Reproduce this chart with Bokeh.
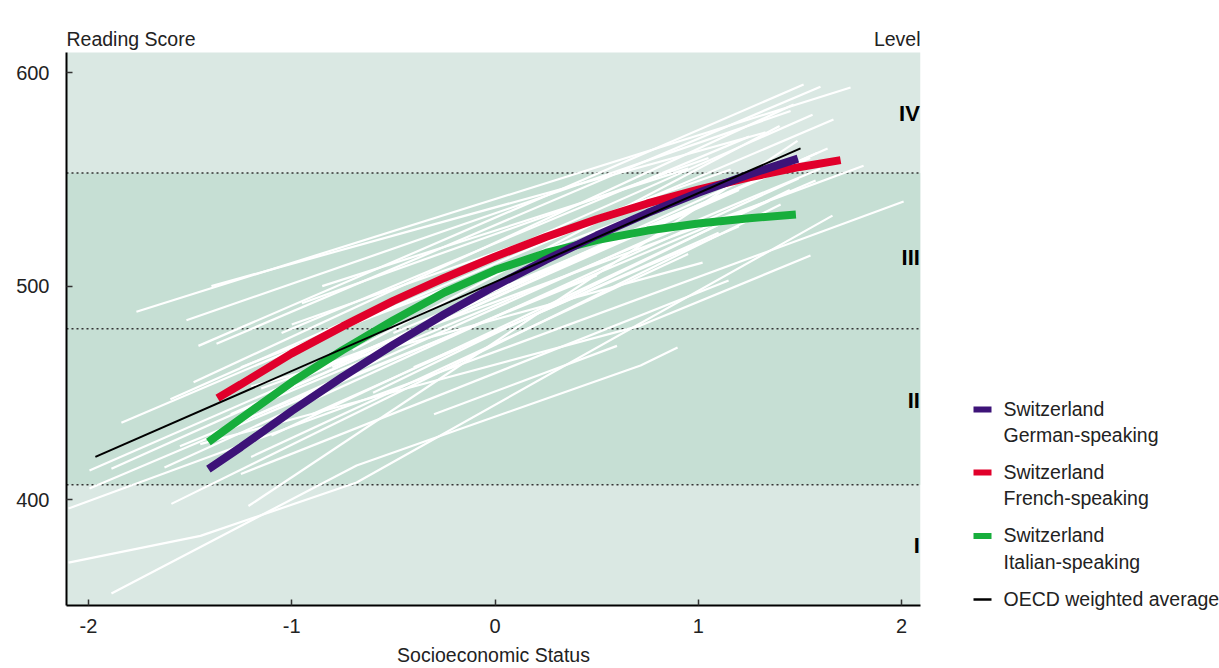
from bokeh.plotting import figure
from bokeh.models import Range1d, BoxAnnotation, Span, Label, FixedTicker
from bokeh.layouts import row
from bokeh.embed import file_html
from bokeh.resources import INLINE
from bokeh.core.properties import value

# ---------------- data ----------------
level_bounds = [407, 480, 553]
level_names = ["I", "II", "III", "IV"]
level_label_y = [378.5, 446.4, 513.3, 580.8]

x_ticks = [-2, -1, 0, 1, 2]
y_ticks = [400, 500, 600]

german_x = [-1.41, -1.25, -1.0, -0.75, -0.5, -0.25, 0.0, 0.25, 0.5, 0.75, 1.0, 1.25, 1.49]
german_y = [414.3, 424.6, 441.5, 457.5, 472.6, 486.8, 500.0, 512.3, 523.7, 534.2, 543.7, 552.3, 559.7]

french_x = [-1.365, -1.25, -1.0, -0.75, -0.5, -0.25, 0.0, 0.25, 0.5, 0.75, 1.0, 1.25, 1.5, 1.70]
french_y = [447.5, 454.0, 468.5, 481.1, 493.1, 503.8, 513.8, 523.0, 531.3, 538.7, 545.2, 550.9, 555.8, 559.0]

italian_x = [-1.41, -1.25, -1.0, -0.75, -0.5, -0.25, 0.0, 0.25, 0.5, 0.75, 1.0, 1.25, 1.48]
italian_y = [427.0, 438.0, 455.0, 470.0, 484.0, 497.0, 507.5, 515.5, 521.5, 526.0, 529.3, 531.8, 533.5]

oecd_x = [-1.966, 1.503]
oecd_y = [420.0, 564.5]

# other countries (socio-economic gradients)
country_xs = [
    [-1.764, 1.749], [-1.395, 1.331], [-1.518, 1.454], [-1.459, 1.518], [-1.370, 1.601],
    [-1.483, 1.469], [-1.597, 1.562], [-1.838, 1.665], [-1.995, 1.636], [-1.887, 1.587],
    [-1.995, 1.577], [-2.098, 2.010], [-1.626, 1.493], [-1.592, 1.405], [-1.213, 1.488],
    [-1.887, -0.681, 0.716, 0.898], [-2.098, -1.449, -0.681, 1.660], [-1.25, 1.149],
    [-1.45, -0.711, 0.716, 1.552], [-1.20, 1.021], [-1.00, 1.159], [-1.15, 1.813],
    [-1.30, 1.20], [-1.10, 1.35], [-1.00, 1.50], [-0.90, 1.10], [-0.80, 1.30],
    [-1.20, 0.95], [-0.60, 1.45], [-1.05, 1.25], [-0.70, 1.40], [-1.40, 0.90],
    [-0.50, 1.55], [-0.95, 1.05], [-1.25, 1.10], [-0.40, 1.20], [-0.30, 0.60],
    [-1.55, 0.50], [-0.85, 0.95], [-1.15, 1.60],
]
country_ys = [
    [488.0, 593.0], [500.0, 572.0], [484.0, 582.0], [472.0, 594.4], [473.0, 593.4],
    [455.0, 585.0], [447.0, 580.3], [436.0, 578.0], [413.6, 564.4], [414.5, 562.5],
    [405.2, 549.4], [395.8, 539.6], [415.0, 550.4], [398.0, 538.2], [397.0, 568.0],
    [356.0, 416.0, 462.8, 471.2], [370.5, 383.0, 408.0, 533.0], [412.0, 502.6],
    [426.0, 445.0, 481.5, 514.3], [453.0, 511.0], [482.0, 554.6], [452.0, 556.4],
    [440.0, 545.0], [430.0, 540.0], [455.0, 558.0], [440.0, 525.0], [462.0, 553.0],
    [420.0, 515.0], [450.0, 545.0], [478.0, 570.0], [470.0, 575.0], [430.0, 528.0],
    [478.0, 560.0], [492.0, 560.0], [462.0, 548.0], [462.0, 528.0], [440.0, 472.0],
    [425.0, 505.0], [500.0, 555.0], [445.0, 555.0],
]

legend_first = ["Switzerland", "Switzerland", "Switzerland", "OECD weighted average"]
legend_second = ["German-speaking", "French-speaking", "Italian-speaking"]

# ---------------- style ----------------
FONT = "Liberation Sans"
PURPLE = "#3d1378"
RED = "#e1002b"
GREEN = "#17ae3c"
LIGHT_BG = "#dae8e3"
BAND_BG = "#c6dfd4"
TXT = "#222222"
legend_colors = [PURPLE, RED, GREEN, "black"]
legend_widths = [6, 6, 6, 2.5]

Y_LO, Y_HI = 350.4, 609.4          # visible plot area
Y_TOP = Y_HI + 52 / 2.135          # room above for the titles

p = figure(width=940, height=668,
           x_range=Range1d(-2.108, 2.093), y_range=Range1d(Y_LO, Y_TOP),
           output_backend="svg", toolbar_location=None,
           min_border_left=66, min_border_right=20, min_border_top=0, min_border_bottom=63,
           background_fill_color="white", border_fill_color="white",
           outline_line_color=None)
p.frame_align = False
p.grid.visible = False

p.add_layout(BoxAnnotation(top=Y_HI, fill_color=LIGHT_BG, fill_alpha=1.0,
                           line_color=None, level="underlay"))
p.add_layout(BoxAnnotation(bottom=level_bounds[0], top=level_bounds[2],
                           fill_color=BAND_BG, fill_alpha=1.0, line_color=None,
                           level="underlay"))
for b in level_bounds:
    p.add_layout(Span(location=b, dimension="width", line_color="#333333",
                      line_width=1.5, line_dash="2 3", level="underlay"))

p.multi_line(country_xs, country_ys, line_color="white", line_width=2.2)
p.line(italian_x, italian_y, line_color=GREEN, line_width=8)
p.line(french_x, french_y, line_color=RED, line_width=8)
p.line(german_x, german_y, line_color=PURPLE, line_width=8)
p.line(oecd_x, oecd_y, line_color="black", line_width=2)

p.text(x=[2.09] * 4, y=level_label_y, text=level_names,
       text_align="right", text_baseline="middle",
       text_font=value(FONT), text_font_style="bold", text_font_size="22px",
       text_color="black")

# axes
for ax in (p.xaxis[0], p.yaxis[0]):
    ax.axis_line_color = "black"
    ax.axis_line_width = 2
    ax.major_tick_line_color = "#333333"
    ax.major_tick_line_width = 1.5
    ax.major_tick_in = 6
    ax.major_tick_out = 0
    ax.minor_tick_line_color = None
    ax.major_label_text_font = FONT
    ax.major_label_text_font_size = "20px"
    ax.major_label_text_color = TXT

p.yaxis.bounds = (Y_LO, Y_HI)
p.xaxis.ticker = FixedTicker(ticks=x_ticks)
p.xaxis.major_label_overrides = {t: str(t) for t in x_ticks}
p.yaxis.ticker = FixedTicker(ticks=y_ticks)
p.xaxis.major_label_standoff = 13
p.yaxis.major_label_standoff = 17
p.xaxis.axis_label = "Socioeconomic Status"
p.xaxis.axis_label_text_font = FONT
p.xaxis.axis_label_text_font_size = "19.5px"
p.xaxis.axis_label_text_font_style = "normal"
p.xaxis.axis_label_text_color = TXT
p.xaxis.axis_label_standoff = 8

p.add_layout(Label(x=-2.108, y=Y_HI + 14 / 2.135, text="Reading Score", text_align="left",
                   text_baseline="alphabetic", text_font=FONT, text_font_size="19.5px",
                   text_color=TXT))
p.add_layout(Label(x=2.093, y=Y_HI + 14 / 2.135, text="Level", text_align="right",
                   text_baseline="alphabetic", text_font=FONT, text_font_size="19.5px",
                   text_color=TXT))

# legend panel: its frame covers the whole panel, y given in page pixels
q = figure(width=279, height=668, x_range=Range1d(940, 1219), y_range=Range1d(668, 0),
           output_backend="svg", toolbar_location=None, min_border=0,
           x_axis_type=None, y_axis_type=None, outline_line_color=None,
           background_fill_color="white", border_fill_color="white")
q.frame_align = False
q.grid.visible = False
first_y = [408.0, 471.0, 534.5, 598.0]
second_y = [434.0, 497.5, 561.0]
for i in range(len(legend_first)):
    q.segment(x0=[973], y0=[first_y[i] + 1], x1=[991], y1=[first_y[i] + 1],
              line_color=legend_colors[i], line_width=legend_widths[i])
q.text(x=[1003] * 4, y=first_y, text=legend_first, text_align="left",
       text_baseline="middle", text_font=value(FONT), text_font_size="19.5px",
       text_color=TXT)
q.text(x=[1003] * 3, y=second_y, text=legend_second, text_align="left",
       text_baseline="middle", text_font=value(FONT), text_font_size="19.5px",
       text_color=TXT)

layout = row(p, q)
open("out.html", "w").write(file_html(layout, INLINE))
